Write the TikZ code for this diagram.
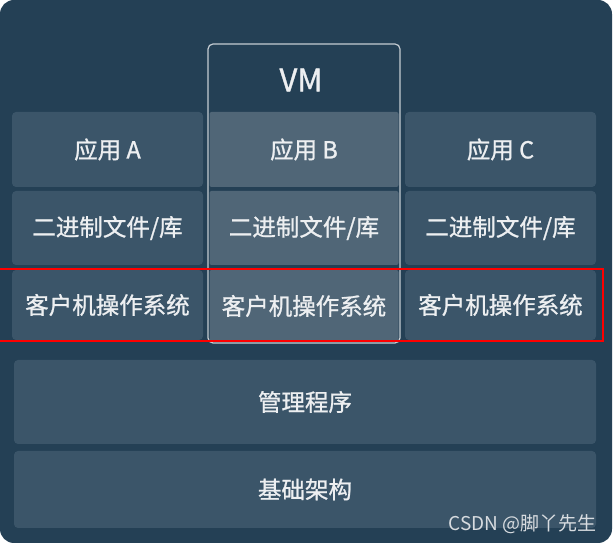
\documentclass[tikz,border=0pt]{standalone}
\usepackage{fontspec}
\setmainfont{Noto Sans CJK SC}
\newfontfamily\mfont[FakeBold=1]{Noto Sans CJK SC}
\definecolor{bgnavy}{HTML}{244055}
\definecolor{cellc}{HTML}{3B5569}
\definecolor{vmcell}{HTML}{506677}
\definecolor{txt}{HTML}{EDEFF1}
\definecolor{vmline}{HTML}{C5CCD2}
\definecolor{redbox}{HTML}{FF0000}
\definecolor{wm}{HTML}{D8DCE0}
\tikzset{
  cell/.style={fill=cellc, rounded corners=4pt, text=txt, font=\mfont\fontsize{23.5}{26}\selectfont, inner sep=0pt, anchor=center},
  vmcellstyle/.style={cell, fill=vmcell, rounded corners=2pt},
}
\begin{document}
\begin{tikzpicture}[x=1pt,y=1pt]
\useasboundingbox (0,0) rectangle (614,-545);
% outer background
\fill[bgnavy, rounded corners=14pt] (0,0) rectangle (612,-543);
% left column
\node[cell, minimum width=191pt, minimum height=75pt] (appA) at (107.5,-149.5) {应用 A};
\node[cell, minimum width=191pt, minimum height=74pt] (binA) at (107.5,-228) {二进制文件/库};
\node[cell, minimum width=191pt, minimum height=70pt] (osA) at (107.5,-305) {客户机操作系统};
% right column
\node[cell, minimum width=191pt, minimum height=75pt] (appC) at (500.5,-149.5) {应用 C};
\node[cell, minimum width=191pt, minimum height=74pt] (binC) at (500.5,-228) {二进制文件/库};
\node[cell, minimum width=191pt, minimum height=70pt] (osC) at (500.5,-305) {客户机操作系统};
% VM column
\node[vmcellstyle, minimum width=189pt, minimum height=75pt] (appB) at (304,-149.5) {应用 B};
\node[vmcellstyle, minimum width=189pt, minimum height=74pt] (binB) at (304,-228) {二进制文件/库};
\node[vmcellstyle, minimum width=189pt, minimum height=72pt] (osB) at (304,-306) {客户机操作系统};
\draw[vmline, line width=1.2pt, rounded corners=5pt] (208,-44) rectangle (400,-343);
\node[text=txt, font=\mfont\fontsize{31}{34}\selectfont] (vm) at (301,-80) {VM};
% bottom layers
\node[cell, minimum width=582pt, minimum height=84pt] (hyp) at (305,-402) {管理程序};
\node[cell, minimum width=582pt, minimum height=77pt] (infra) at (305,-489.5) {基础架构};
% red highlight
\draw[redbox, line width=2.5pt] (-2,-269) rectangle (603,-341);
% watermark
\node[text=wm, font=\fontsize{19}{21}\selectfont, anchor=east, inner sep=0pt] (mark) at (597,-524) {CSDN @脚丫先生};
\end{tikzpicture}
\end{document}
